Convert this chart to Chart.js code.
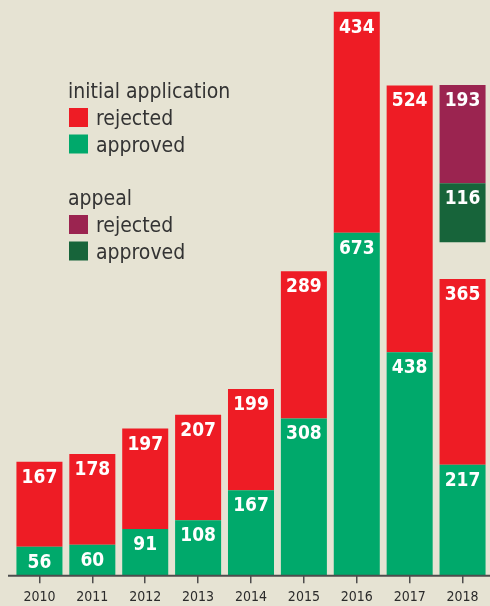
<!DOCTYPE html>
<html>
<head>
<meta charset="utf-8">
<script src="https://cdn.jsdelivr.net/npm/chart.js@4/dist/chart.umd.min.js"></script>
<style>
  html, body { margin: 0; padding: 0; background: #e6e3d3; }
  #wrap { width: 490px; height: 606px; position: relative; }
  canvas { display: block; }
</style>
</head>
<body>
<div id="wrap"><canvas id="c" width="490" height="606"></canvas></div>
<script>
// Asylum decisions per year: initial application and appeal outcomes
const years = ['2010', '2011', '2012', '2013', '2014', '2015', '2016', '2017', '2018'];
const initialApproved = [56, 60, 91, 108, 167, 308, 673, 438, 217];
const initialRejected = [167, 178, 197, 207, 199, 289, 434, 524, 365];
// empty space that lifts the 2018 appeal stack above the initial stack
const appealGap = [null, null, null, null, null, null, null, null, 72];
const appealApproved = [null, null, null, null, null, null, null, null, 116];
const appealRejected = [null, null, null, null, null, null, null, null, 193];

const legendGroups = ['initial application', 'appeal'];
const legendItems = ['rejected', 'approved'];

const COLORS = {
  red: '#ee1c25',
  green: '#00a96b',
  purple: '#9b2450',
  darkGreen: '#17643a',
  text: '#333333',
  axis: '#4d4d4d'
};
const CONDENSED = "'DejaVu Sans Condensed', 'DejaVu Sans', sans-serif";

// White value labels placed just inside the top of each segment
const valueLabels = {
  id: 'valueLabels',
  afterDatasetsDraw(chart) {
    const ctx = chart.ctx;
    ctx.save();
    ctx.fillStyle = '#ffffff';
    ctx.font = 'bold 19px ' + CONDENSED;
    ctx.textAlign = 'center';
    ctx.textBaseline = 'middle';
    chart.data.datasets.forEach((ds, di) => {
      if (!ds.showValue) return;
      const meta = chart.getDatasetMeta(di);
      meta.data.forEach((el, i) => {
        const v = ds.data[i];
        if (v === null || v === undefined) return;
        ctx.fillText(String(v), el.x, el.y + 16);
      });
    });
    ctx.restore();
  }
};

// Baseline drawn slightly past the left edge of the plot area
const baseLine = {
  id: 'baseLine',
  afterDatasetsDraw(chart) {
    const ctx = chart.ctx;
    const a = chart.chartArea;
    ctx.save();
    ctx.strokeStyle = COLORS.axis;
    ctx.lineWidth = 2;
    ctx.beginPath();
    ctx.moveTo(8, a.bottom + 0.5);
    ctx.lineTo(chart.width, a.bottom + 0.5);
    ctx.stroke();
    ctx.restore();
  }
};

// Two-group legend: "initial application" and "appeal"
const groupedLegend = {
  id: 'groupedLegend',
  afterDraw(chart) {
    const ctx = chart.ctx;
    const swatches = [
      [COLORS.red, COLORS.green],
      [COLORS.purple, COLORS.darkGreen]
    ];
    const groupTop = [98, 205];
    ctx.save();
    ctx.textAlign = 'left';
    ctx.textBaseline = 'alphabetic';
    ctx.font = '21px ' + CONDENSED;
    legendGroups.forEach((g, gi) => {
      const base = groupTop[gi];
      ctx.fillStyle = COLORS.text;
      ctx.fillText(g, 68, base);
      legendItems.forEach((item, ii) => {
        const top = base + 10 + ii * 26.5;
        ctx.fillStyle = swatches[gi][ii];
        ctx.fillRect(69, top, 19, 19);
        ctx.fillStyle = COLORS.text;
        ctx.fillText(item, 96, top + 17);
      });
    });
    ctx.restore();
  }
};

new Chart(document.getElementById('c'), {
  type: 'bar',
  data: {
    labels: years,
    datasets: [
      { label: 'initial approved', data: initialApproved, backgroundColor: COLORS.green, showValue: true },
      { label: 'initial rejected', data: initialRejected, backgroundColor: COLORS.red, showValue: true },
      { label: 'gap', data: appealGap, backgroundColor: 'rgba(0,0,0,0)', showValue: false },
      { label: 'appeal approved', data: appealApproved, backgroundColor: COLORS.darkGreen, showValue: true },
      { label: 'appeal rejected', data: appealRejected, backgroundColor: COLORS.purple, showValue: true }
    ]
  },
  options: {
    responsive: false,
    animation: false,
    devicePixelRatio: 1,
    layout: { padding: { left: 13, right: 1, top: 0, bottom: -6 } },
    datasets: {
      bar: { categoryPercentage: 1, barPercentage: 0.87, borderWidth: 0, stack: 'all' }
    },
    plugins: {
      legend: { display: false },
      tooltip: { enabled: false }
    },
    scales: {
      x: {
        stacked: true,
        grid: {
          display: true,
          drawOnChartArea: false,
          drawTicks: true,
          tickLength: 8,
          offset: false,
          color: COLORS.axis,
          lineWidth: 1.5
        },
        border: { display: false },
        ticks: {
          color: '#2b2b2b',
          padding: 6,
          font: { family: CONDENSED, size: 14 }
        }
      },
      y: {
        stacked: true,
        display: false,
        min: 0,
        max: 1130
      }
    }
  },
  plugins: [valueLabels, baseLine, groupedLegend]
});
</script>
</body>
</html>
